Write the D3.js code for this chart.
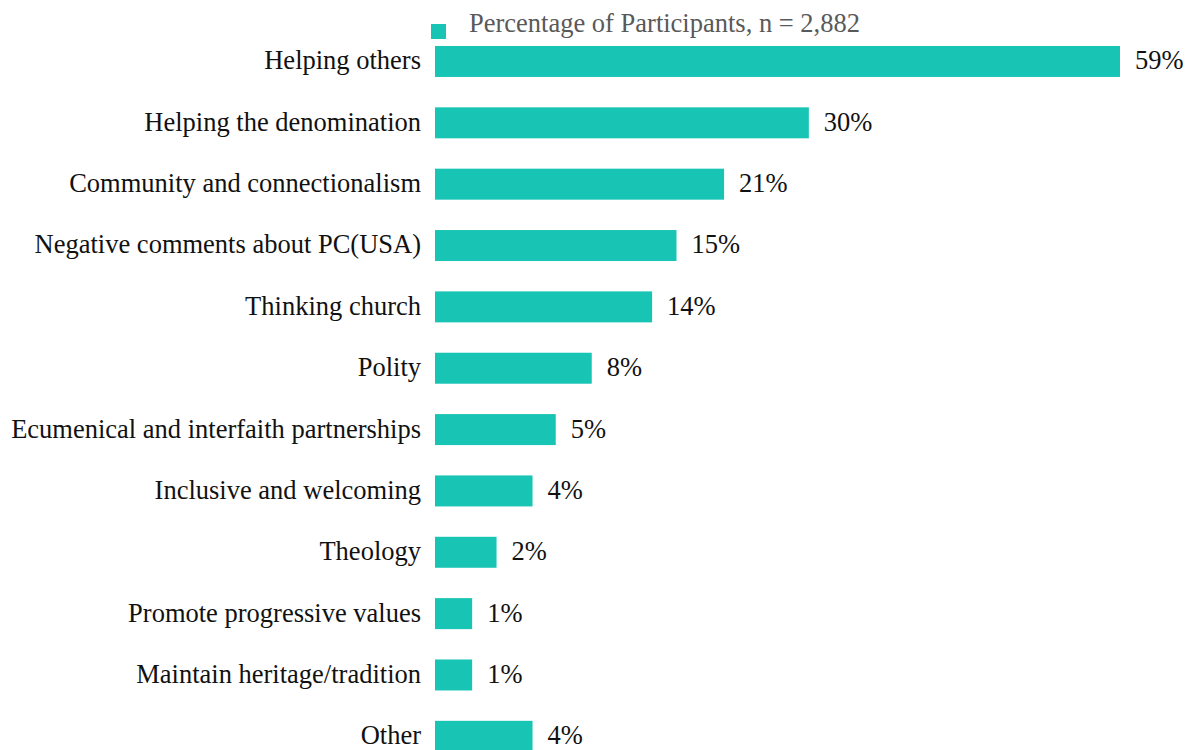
<!DOCTYPE html>
<html>
<head>
<meta charset="utf-8">
<script src="https://cdn.jsdelivr.net/npm/d3@7"></script>
<style>
  html, body { margin: 0; padding: 0; background: #fff; overflow: hidden; }
  svg { display: block; }
</style>
</head>
<body>
<svg id="chart" width="1185" height="750"></svg>
<script>
// Categories (top to bottom)
const categories = [
  "Helping others",
  "Helping the denomination",
  "Community and connectionalism",
  "Negative comments about PC(USA)",
  "Thinking church",
  "Polity",
  "Ecumenical and interfaith partnerships",
  "Inclusive and welcoming",
  "Theology",
  "Promote progressive values",
  "Maintain heritage/tradition",
  "Other"
];
// Bar lengths (percentage scale)
const values = [59, 32.2, 24.9, 20.8, 18.7, 13.5, 10.4, 8.4, 5.3, 3.2, 3.2, 8.4];
// Printed value labels
const valueLabels = ["59%", "30%", "21%", "15%", "14%", "8%", "5%", "4%", "2%", "1%", "1%", "4%"];
const legendLabel = "Percentage of Participants, n = 2,882";

const data = categories.map((c, i) => ({ cat: c, value: values[i], label: valueLabels[i] }));

const svg = d3.select("#chart");
const color = "#18c4b4";
const font = "'Liberation Serif', 'Times New Roman', serif";
const fs = 26.5;

const x = d3.scaleLinear().domain([0, 59]).range([435, 1120]);
const y = d3.scaleBand().domain(categories).range([30.8, 767]).paddingInner(0.495).paddingOuter(0.2475);

// Bars
svg.append("g").selectAll("rect").data(data).join("rect")
  .attr("x", x(0))
  .attr("y", d => y(d.cat))
  .attr("width", d => x(d.value) - x(0))
  .attr("height", y.bandwidth())
  .attr("fill", color);

// Category axis (labels only)
const yAxis = d3.axisLeft(y).tickSize(0).tickPadding(14);
const gy = svg.append("g").attr("transform", `translate(${x(0)},0)`).call(yAxis);
gy.select(".domain").remove();
gy.selectAll("text")
  .attr("dy", "0.3em")
  .attr("font-family", font)
  .attr("font-size", fs)
  .attr("fill", "#111");

// Value labels
svg.append("g").selectAll("text").data(data).join("text")
  .attr("x", d => x(d.value) + 15)
  .attr("y", d => y(d.cat) + y.bandwidth() / 2)
  .attr("dy", "0.3em")
  .attr("font-family", font)
  .attr("font-size", fs)
  .attr("fill", "#111")
  .text(d => d.label);

// Legend
const lg = svg.append("g");
lg.append("rect").attr("x", 431).attr("y", 24).attr("width", 15).attr("height", 15).attr("fill", color);
lg.append("text")
  .attr("x", 469).attr("y", 32)
  .attr("font-family", font)
  .attr("font-size", fs)
  .attr("fill", "#595959")
  .text(legendLabel);
</script>
</body>
</html>
